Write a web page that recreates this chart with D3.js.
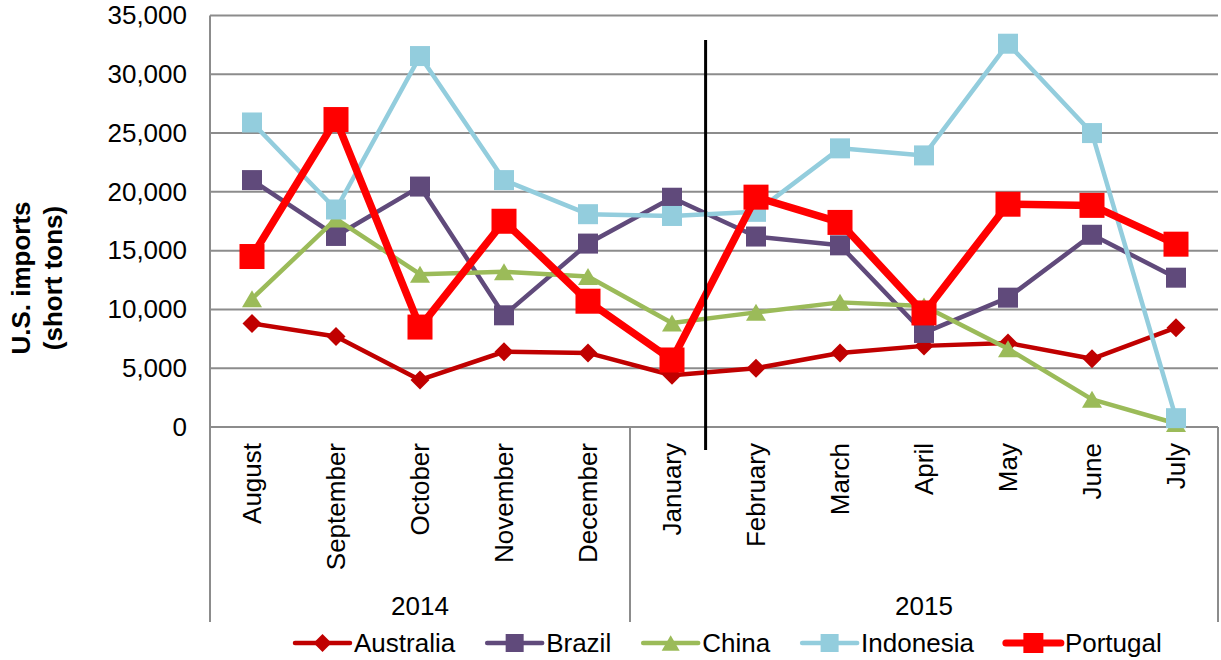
<!DOCTYPE html>
<html>
<head>
<meta charset="utf-8">
<script src="https://cdn.jsdelivr.net/npm/d3@7/dist/d3.min.js"></script>
<style>
  html, body { margin: 0; padding: 0; background: #fff; }
  svg { display: block; font-family: 'Liberation Sans', Arial, sans-serif; }
</style>
</head>
<body>
<div id="chart"></div>
<script>
// Monthly U.S. imports by origin, Aug 2014 - Jul 2015
const months = ['August', 'September', 'October', 'November', 'December',
  'January', 'February', 'March', 'April', 'May', 'June', 'July']
const yearGroups = [
  { label: '2014', first: 'August', last: 'December' },
  { label: '2015', first: 'January', last: 'July' },
]
const yTicks = [0, 5000, 10000, 15000, 20000, 25000, 30000, 35000]

const australia = [8800, 7700, 4000, 6400, 6300, 4400, 5000, 6300, 6900, 7150, 5800, 8450]
const brazil = [21000, 16250, 20450, 9500, 15600, 19500, 16200, 15450, 8000, 11000, 16350, 12700]
const china = [10900, 17700, 13000, 13200, 12800, 8850, 9750, 10600, 10300, 6650, 2350, 300]
const indonesia = [25900, 18500, 31550, 21000, 18100, 17950, 18300, 23700, 23100, 32600, 25000, 750]
const portugal = [14500, 26150, 8500, 17500, 10700, 5700, 19550, 17400, 9700, 18950, 18850, 15550]

// vertical marker sits 40% of the way from January to February
const markerMonth = 'January'
const markerOffset = 0.4

const series = [
  { name: 'Australia', values: australia, color: '#C00000', width: 4.5, marker: 'diamond', size: 19 },
  { name: 'Brazil', values: brazil, color: '#604A7B', width: 4.5, marker: 'square', size: 20 },
  { name: 'China', values: china, color: '#9BBB59', width: 4.5, marker: 'triangle', size: 20 },
  { name: 'Indonesia', values: indonesia, color: '#93CDDD', width: 4.5, marker: 'square', size: 20 },
  { name: 'Portugal', values: portugal, color: '#FF0000', width: 7.5, marker: 'square', size: 25 },
]

const width = 1221
const height = 660
const plot = { left: 210, right: 1218, top: 15.5, bottom: 427 }
const axisBottom = 622
const fontSize = 26
const gridColor = '#8C8C8C'

const svg = d3.select('#chart')
  .append('svg')
  .attr('width', width)
  .attr('height', height)

const xScale = d3.scaleBand()
  .domain(months)
  .range([plot.left, plot.right])
  .padding(0)
const xc = m => xScale(m) + xScale.bandwidth() / 2

const yScale = d3.scaleLinear()
  .domain([0, 35000])
  .range([plot.bottom, plot.top])

// Grid lines
svg.append('g')
  .selectAll('line')
  .data(yTicks)
  .join('line')
  .attr('x1', plot.left).attr('x2', plot.right)
  .attr('y1', d => yScale(d)).attr('y2', d => yScale(d))
  .attr('stroke', gridColor).attr('stroke-width', 2)

// Y axis labels
const yAxis = svg.append('g')
  .attr('transform', `translate(${plot.left},0)`)
  .call(d3.axisLeft(yScale).tickValues(yTicks).tickFormat(d3.format(',')).tickSize(0).tickPadding(23))
yAxis.select('.domain').remove()
yAxis.selectAll('text')
  .attr('font-size', fontSize).attr('fill', '#000')
  .attr('font-family', "'Liberation Sans', Arial, sans-serif")

// Axis frame: left spine, category axis and group separators
svg.append('line')
  .attr('x1', plot.left).attr('x2', plot.left)
  .attr('y1', plot.top).attr('y2', axisBottom)
  .attr('stroke', gridColor).attr('stroke-width', 2)
svg.append('line')
  .attr('x1', plot.left).attr('x2', plot.right)
  .attr('y1', plot.bottom).attr('y2', plot.bottom)
  .attr('stroke', gridColor).attr('stroke-width', 2)
yearGroups.forEach(gr => {
  const xe = xScale(gr.last) + xScale.bandwidth()
  svg.append('line')
    .attr('x1', xe).attr('x2', xe)
    .attr('y1', plot.bottom).attr('y2', axisBottom)
    .attr('stroke', gridColor).attr('stroke-width', 2)
  const mid = (xScale(gr.first) + xe) / 2
  svg.append('text')
    .attr('x', mid).attr('y', 615)
    .attr('text-anchor', 'middle')
    .attr('font-size', fontSize)
    .text(gr.label)
})

// Month labels, rotated
svg.append('g')
  .selectAll('text')
  .data(months)
  .join('text')
  .attr('transform', d => `translate(${xc(d)},443) rotate(-90)`)
  .attr('text-anchor', 'end')
  .attr('dy', '0.35em')
  .attr('font-size', fontSize)
  .text(d => d)

// Y axis title
const title = svg.append('text')
  .attr('transform', 'translate(30,278) rotate(-90)')
  .attr('text-anchor', 'middle')
  .attr('font-size', fontSize)
  .attr('font-weight', 'bold')
title.append('tspan').attr('x', 0).attr('y', 0).text('U.S. imports')
title.append('tspan').attr('x', 0).attr('y', 32).text('(short tons)')

// Marker symbols
const drawMarker = (sel, s, x, y, size) => {
  if (s.marker === 'square') {
    sel.append('rect')
      .attr('x', x - size / 2).attr('y', y - size / 2)
      .attr('width', size).attr('height', size)
      .attr('fill', s.color)
  } else if (s.marker === 'diamond') {
    const h = size / 2
    sel.append('path')
      .attr('d', `M${x},${y - h}L${x + h},${y}L${x},${y + h}L${x - h},${y}Z`)
      .attr('fill', s.color)
  } else {
    const h = size / 2
    sel.append('path')
      .attr('d', `M${x},${y - h * 0.85}L${x + h},${y + h * 0.85}L${x - h},${y + h * 0.85}Z`)
      .attr('fill', s.color)
  }
}

// Series lines and markers
const line = d3.line()
  .x((d, i) => xc(months[i]))
  .y(d => yScale(d))

series.forEach(s => {
  const g = svg.append('g')
  g.append('path')
    .attr('d', line(s.values))
    .attr('fill', 'none')
    .attr('stroke', s.color)
    .attr('stroke-width', s.width)
    .attr('stroke-linejoin', 'round')
  s.values.forEach((v, i) => drawMarker(g, s, xc(months[i]), yScale(v), s.size))
})

// Vertical marker line
const mx = xc(markerMonth) + xScale.step() * markerOffset
svg.append('line')
  .attr('x1', mx).attr('x2', mx)
  .attr('y1', 40).attr('y2', 450)
  .attr('stroke', '#000').attr('stroke-width', 3)

// Legend
const legend = svg.append('g')
let lx = 295
const ly = 643
series.forEach(s => {
  legend.append('line')
    .attr('x1', lx).attr('x2', lx + 55)
    .attr('y1', ly).attr('y2', ly)
    .attr('stroke', s.color)
    .attr('stroke-width', s.name === 'Portugal' ? 7 : 4.5)
    .attr('stroke-linecap', 'round')
  drawMarker(legend, s, lx + 27.5, ly, s.name === 'Portugal' ? 20 : 18)
  const t = legend.append('text')
    .attr('x', lx + 59).attr('y', ly + 9)
    .attr('font-size', fontSize)
    .text(s.name)
  lx += 59 + t.node().getComputedTextLength() + 32
})
</script>
</body>
</html>
